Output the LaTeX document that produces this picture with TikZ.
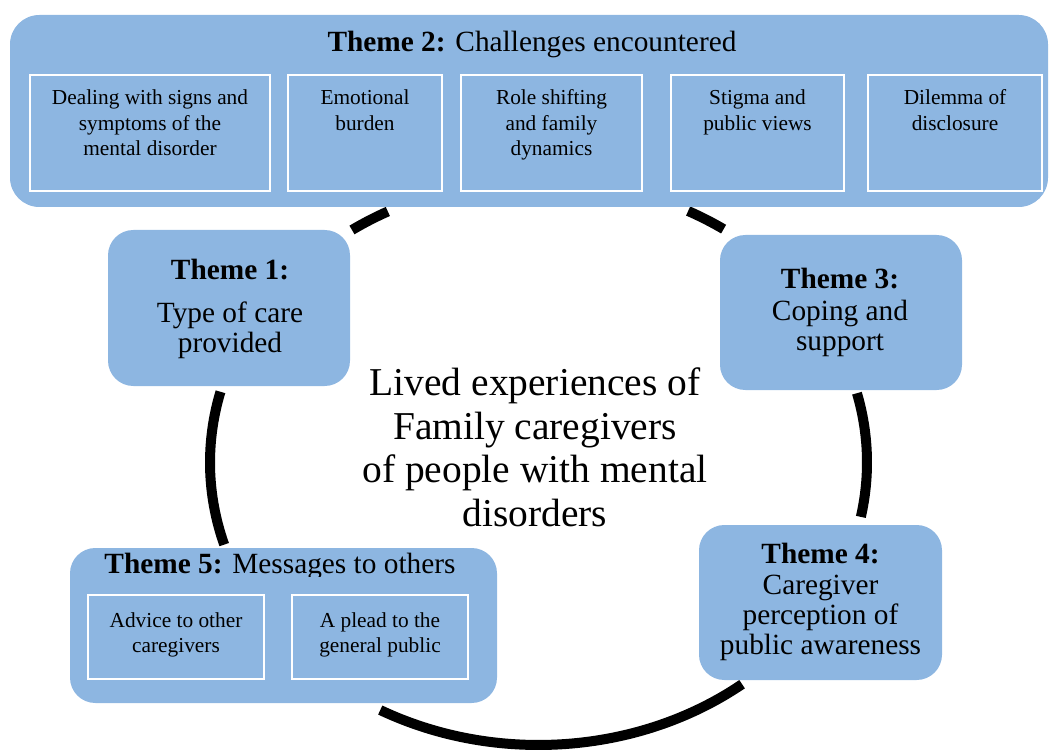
\documentclass[tikz,border=0pt]{standalone}
\usepackage{fontspec}
\setmainfont{Liberation Serif}
\usetikzlibrary{calc}
\definecolor{themeblue}{HTML}{8DB6E1}
\newcommand{\mylines}[1]{\begin{tabular}[t]{@{}c@{}}#1\end{tabular}}
\begin{document}
\begin{tikzpicture}[x=0.75pt,y=-0.75pt,
  ring/.style={line width=7.5pt,draw=black},
  bigbox/.style={fill=themeblue,draw=none,inner sep=0pt,rounded corners=22pt},
  themebox/.style={fill=themeblue,draw=none,inner sep=0pt,rounded corners=19pt},
  subbox/.style={fill=themeblue,draw=white,line width=1.5pt,inner sep=0pt},
  themetxt/.style={anchor=base,inner sep=0pt,font=\fontsize{22}{22.5}\selectfont},
  subtxt/.style={anchor=base,inner sep=0pt,font=\fontsize{16}{19}\selectfont},
  centertxt/.style={anchor=base,inner sep=0pt,font=\fontsize{29.6}{33}\selectfont}]
\useasboundingbox (0,0) rectangle (1057,752);
% ring segments
\coordinate (E) at (538.5,462.5);
\draw[ring] ($(E)+(235.4:328.5 and 282.5)$) arc[start angle=235.4,end angle=242.7,x radius=328.5,y radius=282.5];
\draw[ring] ($(E)+(297.1:328.5 and 282.5)$) arc[start angle=297.1,end angle=304.3,x radius=328.5,y radius=282.5];
\draw[ring] ($(E)+(-14.2:328.5 and 282.5)$) arc[start angle=-14.2,end angle=11.1,x radius=328.5,y radius=282.5];
\draw[ring] ($(E)+(51.7:328.5 and 282.5)$) arc[start angle=51.7,end angle=118.8,x radius=328.5,y radius=282.5];
\draw[ring] ($(E)+(163.1:328.5 and 282.5)$) arc[start angle=163.1,end angle=194.5,x radius=328.5,y radius=282.5];
% Theme 2
\node[bigbox,minimum width=1038*0.75pt,minimum height=192*0.75pt] (t2) at (529,111) {};
\node[themetxt] (t2title) at (532,52) {\textbf{Theme 2:} Challenges encountered};
\node[subbox,minimum width=240*0.75pt,minimum height=116*0.75pt] (s1) at (150,133) {};
\node[subbox,minimum width=154*0.75pt,minimum height=116*0.75pt] (s2) at (365,133) {};
\node[subbox,minimum width=181*0.75pt,minimum height=116*0.75pt] (s3) at (551.5,133) {};
\node[subbox,minimum width=173*0.75pt,minimum height=116*0.75pt] (s4) at (757.5,133) {};
\node[subbox,minimum width=174*0.75pt,minimum height=116*0.75pt] (s5) at (955,133) {};
\node[subtxt] (s1t) at (150,105) {\mylines{Dealing with signs and\\symptoms of the\\mental disorder}};
\node[subtxt] (s2t) at (365,105) {\mylines{Emotional\\burden}};
\node[subtxt] (s3t) at (551.5,105) {\mylines{Role shifting\\and family\\dynamics}};
\node[subtxt] (s4t) at (757.5,105) {\mylines{Stigma and\\public views}};
\node[subtxt] (s5t) at (955,105) {\mylines{Dilemma of\\disclosure}};
% Theme 1
\node[themebox,minimum width=242*0.75pt,minimum height=156*0.75pt] (t1) at (229,308) {};
\node[themetxt] (t1t) at (230,280) {\mylines{\textbf{Theme 1:}\\[9.75pt]Type of care\\provided}};
% Theme 3
\node[themebox,minimum width=242*0.75pt,minimum height=155*0.75pt] (t3) at (841,312.5) {};
\node[themetxt] (t3t) at (840,289) {\mylines{\textbf{Theme 3:}\\[0.8pt]Coping and\\support}};
% Theme 4
\node[themebox,minimum width=243*0.75pt,minimum height=155*0.75pt] (t4) at (820.5,602.5) {};
\node[themetxt] (t4t) at (820.5,563) {\mylines{\textbf{Theme 4:}\\[0.8pt]Caregiver\\perception of\\public awareness}};
% Theme 5
\node[bigbox,rounded corners=19pt,minimum width=427*0.75pt,minimum height=155*0.75pt] (t5) at (283.5,625.5) {};
\begin{scope}
\clip (60,540) rectangle (510,576);
\node[themetxt] (t5title) at (280,573) {\textbf{Theme 5:} Messages to others};
\end{scope}
\node[subbox,minimum width=176*0.75pt,minimum height=84*0.75pt] (p1) at (176,637) {};
\node[subbox,minimum width=176*0.75pt,minimum height=84*0.75pt] (p2) at (380,637) {};
\node[subtxt] (p1t) at (176,627) {\mylines{Advice to other\\caregivers}};
\node[subtxt] (p2t) at (380,627) {\mylines{A plead to the\\general public}};
% centre
\node[centertxt] (ctr) at (535,395) {\mylines{Lived experiences of\\Family caregivers\\of people with mental\\disorders}};
\end{tikzpicture}
\end{document}
